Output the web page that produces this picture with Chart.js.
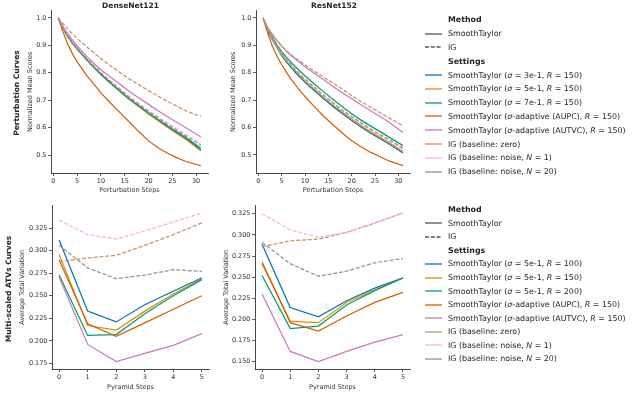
<!DOCTYPE html>
<html>
<head>
<meta charset="utf-8">
<script src="https://cdn.jsdelivr.net/npm/chart.js@4.4.1/dist/chart.umd.min.js"></script>
<style>
  body { margin: 0; background: #fff; }
  #fig { position: relative; width: 640px; height: 403px; overflow: hidden; font-family: "DejaVu Sans", sans-serif; color: #262626; }
  canvas { position: absolute; left: 0; top: 0; }
  .ttl { position: absolute; font: bold 7.5px "DejaVu Sans", sans-serif; transform: translate(-50%, -50%); white-space: nowrap; }
  .rowlab { position: absolute; font: bold 7.5px "DejaVu Sans", sans-serif; transform: translate(-50%, -50%) rotate(-90deg); white-space: nowrap; }
  .leg { position: absolute; left: 425px; font-size: 7.9px; }
  .leg div { display: flex; align-items: center; white-space: nowrap; }
  .leg svg { width: 17px; height: 4px; margin-right: 6px; flex: none; }
  .leg b { margin-left: 23px; }
</style>
</head>
<body>
<div id="fig">
  <canvas id="tl" width="640" height="403"></canvas>
  <canvas id="tr" width="640" height="403"></canvas>
  <canvas id="bl" width="640" height="403"></canvas>
  <canvas id="br" width="640" height="403"></canvas>
  <div class="ttl" style="left:130.5px;top:4.5px">DenseNet121</div>
  <div class="ttl" style="left:334px;top:4.5px">ResNet152</div>
  <div class="rowlab" style="left:16px;top:93px">Perturbation Curves</div>
  <div class="rowlab" style="left:8px;top:289px">Multi-scaled ATVs Curves</div>
  <div class="leg" id="legTop" style="top:13px"></div>
  <div class="leg" id="legBot" style="top:203px"></div>
</div>
<script>
// x values
const perturbSteps = [1, 2, 3, 4, 5, 6, 7, 8, 10, 12, 14, 16, 18, 20, 22, 24, 26, 28, 31];
const pyramidSteps = [0, 1, 2, 3, 4, 5];

// tick labels
const perturbTicks = [0, 5, 10, 15, 20, 25, 30];
const pyramidTicks = [0, 1, 2, 3, 4, 5];
const scoreTicks = [0.5, 0.6, 0.7, 0.8, 0.9, 1.0];
const atvTicksDense = [0.175, 0.2, 0.225, 0.25, 0.275, 0.3, 0.325];
const atvTicksRes = [0.15, 0.175, 0.2, 0.225, 0.25, 0.275, 0.3, 0.325];

// DenseNet121 perturbation curves
const dnPertST3   = [1.0, 0.963, 0.933, 0.908, 0.887, 0.867, 0.848, 0.829, 0.794, 0.763, 0.733, 0.704, 0.678, 0.652, 0.628, 0.604, 0.582, 0.559, 0.520];
const dnPertST5   = [1.0, 0.962, 0.932, 0.907, 0.886, 0.866, 0.847, 0.828, 0.793, 0.762, 0.732, 0.702, 0.676, 0.650, 0.625, 0.601, 0.578, 0.555, 0.515];
const dnPertST7   = [1.0, 0.964, 0.934, 0.909, 0.888, 0.868, 0.849, 0.830, 0.795, 0.764, 0.734, 0.705, 0.679, 0.654, 0.630, 0.606, 0.584, 0.562, 0.525];
const dnPertAUPC  = [1.0, 0.950, 0.905, 0.870, 0.840, 0.815, 0.790, 0.770, 0.727, 0.690, 0.655, 0.620, 0.585, 0.552, 0.527, 0.507, 0.490, 0.476, 0.462];
const dnPertAUTVC = [1.0, 0.970, 0.943, 0.920, 0.898, 0.879, 0.860, 0.843, 0.810, 0.785, 0.758, 0.732, 0.708, 0.685, 0.662, 0.640, 0.619, 0.598, 0.566];
const dnPertIGz   = [1.0, 0.980, 0.960, 0.942, 0.925, 0.910, 0.895, 0.880, 0.852, 0.826, 0.801, 0.777, 0.756, 0.735, 0.715, 0.696, 0.678, 0.660, 0.641];
const dnPertIGn1  = [1.0, 0.966, 0.937, 0.913, 0.892, 0.873, 0.854, 0.835, 0.801, 0.771, 0.742, 0.713, 0.688, 0.664, 0.640, 0.617, 0.596, 0.574, 0.545];
const dnPertIGn20 = [1.0, 0.965, 0.936, 0.911, 0.891, 0.871, 0.852, 0.833, 0.799, 0.768, 0.739, 0.710, 0.684, 0.659, 0.635, 0.612, 0.590, 0.568, 0.537];

// ResNet152 perturbation curves
const rnPertST3   = [1.0, 0.955, 0.920, 0.890, 0.862, 0.840, 0.820, 0.800, 0.765, 0.735, 0.705, 0.677, 0.651, 0.626, 0.602, 0.580, 0.560, 0.540, 0.507];
const rnPertST5   = [1.0, 0.956, 0.922, 0.893, 0.866, 0.844, 0.824, 0.805, 0.770, 0.740, 0.710, 0.682, 0.656, 0.631, 0.607, 0.585, 0.565, 0.545, 0.512];
const rnPertST7   = [1.0, 0.960, 0.930, 0.902, 0.877, 0.857, 0.838, 0.821, 0.788, 0.759, 0.730, 0.702, 0.676, 0.650, 0.627, 0.606, 0.586, 0.565, 0.534];
const rnPertAUPC  = [1.0, 0.945, 0.897, 0.860, 0.830, 0.802, 0.777, 0.755, 0.713, 0.676, 0.641, 0.610, 0.580, 0.552, 0.530, 0.510, 0.494, 0.478, 0.461];
const rnPertAUTVC = [1.0, 0.965, 0.940, 0.917, 0.897, 0.879, 0.863, 0.849, 0.822, 0.798, 0.774, 0.750, 0.727, 0.705, 0.683, 0.662, 0.641, 0.619, 0.582];
const rnPertIGz   = [1.0, 0.965, 0.940, 0.917, 0.898, 0.881, 0.866, 0.853, 0.829, 0.806, 0.784, 0.762, 0.740, 0.716, 0.695, 0.675, 0.655, 0.635, 0.607];
const rnPertIGn1  = [1.0, 0.957, 0.924, 0.895, 0.869, 0.847, 0.827, 0.808, 0.774, 0.744, 0.715, 0.687, 0.661, 0.636, 0.613, 0.591, 0.571, 0.551, 0.520];
const rnPertIGn20 = [1.0, 0.958, 0.925, 0.897, 0.871, 0.849, 0.829, 0.810, 0.776, 0.747, 0.718, 0.690, 0.664, 0.640, 0.617, 0.595, 0.575, 0.556, 0.525];

// DenseNet121 ATV curves
const dnAtvR100   = [0.312, 0.233, 0.221, 0.240, 0.255, 0.270];
const dnAtvR150   = [0.296, 0.217, 0.212, 0.233, 0.252, 0.269];
const dnAtvR200   = [0.273, 0.206, 0.207, 0.230, 0.250, 0.268];
const dnAtvAUPC   = [0.290, 0.219, 0.205, 0.220, 0.235, 0.250];
const dnAtvAUTVC  = [0.271, 0.196, 0.177, 0.186, 0.195, 0.208];
const dnAtvIGz    = [0.288, 0.292, 0.295, 0.306, 0.318, 0.331];
const dnAtvIGn1   = [0.334, 0.318, 0.313, 0.322, 0.332, 0.342];
const dnAtvIGn20  = [0.306, 0.281, 0.269, 0.273, 0.279, 0.277];

// ResNet152 ATV curves
const rnAtvR100   = [0.289, 0.214, 0.203, 0.222, 0.237, 0.249];
const rnAtvR150   = [0.266, 0.198, 0.196, 0.220, 0.235, 0.249];
const rnAtvR200   = [0.252, 0.189, 0.192, 0.217, 0.234, 0.249];
const rnAtvAUPC   = [0.268, 0.196, 0.186, 0.204, 0.220, 0.232];
const rnAtvAUTVC  = [0.230, 0.162, 0.150, 0.162, 0.173, 0.182];
const rnAtvIGz    = [0.286, 0.293, 0.295, 0.303, 0.314, 0.326];
const rnAtvIGn1   = [0.325, 0.306, 0.297, 0.303, 0.314, 0.326];
const rnAtvIGn20  = [0.291, 0.266, 0.251, 0.257, 0.267, 0.272];

const colors = ['#0173b2', '#de8f05', '#029e73', '#d55e00', '#cc78bc', '#ca9161', '#fbafe4', '#949494'];
const isIG = [false, false, false, false, false, true, true, true];

const labelsTop = [
  'SmoothTaylor (<i>σ</i> = 3e-1, <i>R</i> = 150)',
  'SmoothTaylor (<i>σ</i> = 5e-1, <i>R</i> = 150)',
  'SmoothTaylor (<i>σ</i> = 7e-1, <i>R</i> = 150)',
  'SmoothTaylor (<i>σ</i>-adaptive (AUPC), <i>R</i> = 150)',
  'SmoothTaylor (<i>σ</i>-adaptive (AUTVC), <i>R</i> = 150)',
  'IG (baseline: zero)',
  'IG (baseline: noise, <i>N</i> = 1)',
  'IG (baseline: noise, <i>N</i> = 20)'
];
const labelsBot = [
  'SmoothTaylor (<i>σ</i> = 5e-1, <i>R</i> = 100)',
  'SmoothTaylor (<i>σ</i> = 5e-1, <i>R</i> = 150)',
  'SmoothTaylor (<i>σ</i> = 5e-1, <i>R</i> = 200)',
  'SmoothTaylor (<i>σ</i>-adaptive (AUPC), <i>R</i> = 150)',
  'SmoothTaylor (<i>σ</i>-adaptive (AUTVC), <i>R</i> = 150)',
  'IG (baseline: zero)',
  'IG (baseline: noise, <i>N</i> = 1)',
  'IG (baseline: noise, <i>N</i> = 20)'
];

const ink = '#333';
const tickFont = { family: 'DejaVu Sans', size: 6.5 };

function panel(id, p) {
  // y axis width / x axis height so the axis titles land where they should
  const yW = p.area.left - p.yTitleX + 3.9 + 1;
  const xH = p.xTitleY - p.area.bottom + 3.9 + 1;
  new Chart(document.getElementById(id), {
    type: 'line',
    data: {
      datasets: p.series.map((s, i) => ({
        data: p.x.map((x, j) => ({ x, y: s[j] })),
        borderColor: colors[i],
        borderWidth: 1.25,
        borderDash: isIG[i] ? [4, 1.8] : [],
        pointRadius: 0,
        fill: false,
        order: -i
      }))
    },
    options: {
      responsive: false,
      animation: false,
      devicePixelRatio: 1,
      layout: { padding: { left: p.area.left - yW, right: 640 - p.area.right, top: p.area.top, bottom: 403 - p.area.bottom - xH } },
      plugins: { legend: { display: false }, tooltip: { enabled: false } },
      scales: {
        x: {
          type: 'linear', min: p.xMin, max: p.xMax,
          afterBuildTicks: s => { s.ticks = p.xTicks.map(v => ({ value: v })); },
          afterFit: s => { s.height = xH; },
          grid: { drawOnChartArea: false, tickLength: 3, color: ink, lineWidth: 0.8 },
          border: { color: ink, width: 0.9 },
          ticks: { font: tickFont, color: '#333', padding: 1.5, maxRotation: 0 },
          title: { display: true, text: p.xTitle, font: tickFont, color: '#333', padding: { top: 0, bottom: 1 } }
        },
        y: {
          type: 'linear', min: p.yMin, max: p.yMax,
          afterBuildTicks: s => { s.ticks = p.yTicks.map(v => ({ value: v })); },
          afterFit: s => { s.width = yW; },
          grid: { drawOnChartArea: false, tickLength: 3, color: ink, lineWidth: 0.8 },
          border: { color: ink, width: 0.9 },
          ticks: { font: tickFont, color: '#333', padding: 1.5, callback: v => v.toFixed(p.yDigits) },
          title: { display: true, text: p.yTitle, font: tickFont, color: '#333', padding: { top: 1, bottom: 0 } }
        }
      }
    }
  });
}

panel('tl', {
  x: perturbSteps, xMin: -0.5, xMax: 32.5, xTicks: perturbTicks, xTitle: 'Perturbation Steps', xTitleY: 190,
  yMin: 0.435, yMax: 1.027, yTicks: scoreTicks, yDigits: 1, yTitle: 'Normalized Mean Scores', yTitleX: 30,
  area: { left: 51, right: 208, top: 10.5, bottom: 173 },
  series: [dnPertST3, dnPertST5, dnPertST7, dnPertAUPC, dnPertAUTVC, dnPertIGz, dnPertIGn1, dnPertIGn20]
});
panel('tr', {
  x: perturbSteps, xMin: -0.5, xMax: 32.5, xTicks: perturbTicks, xTitle: 'Perturbation Steps', xTitleY: 190,
  yMin: 0.434, yMax: 1.027, yTicks: scoreTicks, yDigits: 1, yTitle: 'Normalized Mean Scores', yTitleX: 233,
  area: { left: 256, right: 410, top: 10.5, bottom: 173 },
  series: [rnPertST3, rnPertST5, rnPertST7, rnPertAUPC, rnPertAUTVC, rnPertIGz, rnPertIGn1, rnPertIGn20]
});
panel('bl', {
  x: pyramidSteps, xMin: -0.25, xMax: 5.25, xTicks: pyramidTicks, xTitle: 'Pyramid Steps', xTitleY: 387,
  yMin: 0.1687, yMax: 0.3503, yTicks: atvTicksDense, yDigits: 3, yTitle: 'Average Total Variation', yTitleX: 22.7,
  area: { left: 52, right: 209, top: 205.5, bottom: 369 },
  series: [dnAtvR100, dnAtvR150, dnAtvR200, dnAtvAUPC, dnAtvAUTVC, dnAtvIGz, dnAtvIGn1, dnAtvIGn20]
});
panel('br', {
  x: pyramidSteps, xMin: -0.25, xMax: 5.25, xTicks: pyramidTicks, xTitle: 'Pyramid Steps', xTitleY: 387,
  yMin: 0.1412, yMax: 0.3348, yTicks: atvTicksRes, yDigits: 3, yTitle: 'Average Total Variation', yTitleX: 226.7,
  area: { left: 255, right: 410, top: 205.5, bottom: 369 },
  series: [rnAtvR100, rnAtvR150, rnAtvR200, rnAtvAUPC, rnAtvAUTVC, rnAtvIGz, rnAtvIGn1, rnAtvIGn20]
});

// legends
function sample(color, dashed) {
  return '<svg viewBox="0 0 17 4"><line x1="0" y1="2" x2="17" y2="2" stroke="' + color +
    '" stroke-width="1.3"' + (dashed ? ' stroke-dasharray="4 1.8"' : '') + '/></svg>';
}
function legend(id, labels, rowH) {
  let html = '';
  const row = inner => '<div style="height:' + rowH + 'px">' + inner + '</div>';
  html += row('<b>Method</b>');
  html += row(sample('#555', false) + 'SmoothTaylor');
  html += row(sample('#555', true) + 'IG');
  html += row('<b>Settings</b>');
  labels.forEach((l, i) => { html += row(sample(colors[i], false) + '<span>' + l + '</span>'); });
  document.getElementById(id).innerHTML = html;
}
legend('legTop', labelsTop, 13.8);
legend('legBot', labelsBot, 13.55);
</script>
</body>
</html>
